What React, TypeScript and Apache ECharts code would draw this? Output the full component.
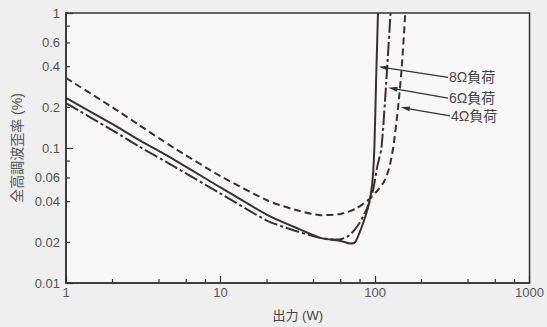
import React, { useEffect, useRef } from 'react';
import * as echarts from 'echarts';

// 8Ω load (solid)
const power8 = [1, 2, 3, 5, 10, 20, 30, 45, 60, 69, 74, 82, 91, 96, 99, 101.5, 104.5];
const thd8 = [0.235, 0.15, 0.114, 0.082, 0.051, 0.032, 0.026, 0.0215, 0.0205, 0.0196, 0.0199, 0.026, 0.038, 0.055, 0.1, 0.3, 1];
// 6Ω load (dash-dot)
const power6 = [1, 2, 3, 5, 10, 20, 30, 45, 58, 68, 78, 88, 96, 104, 110, 118, 126];
const thd6 = [0.215, 0.135, 0.102, 0.073, 0.046, 0.029, 0.0245, 0.0215, 0.021, 0.0225, 0.027, 0.035, 0.046, 0.075, 0.1, 0.3, 1];
// 4Ω load (dashed)
const power4 = [1, 2, 3, 5, 10, 20, 30, 45, 60, 75, 90, 103, 114, 123, 131, 141, 149, 157];
const thd4 = [0.33, 0.2, 0.147, 0.1, 0.062, 0.041, 0.035, 0.0318, 0.0325, 0.0355, 0.041, 0.048, 0.056, 0.07, 0.1, 0.2, 0.4, 1];

const xMinorTicks = [2, 4, 6, 8, 20, 40, 60, 80, 200, 400, 600, 800];
const yMinorTicks = [0.8, 0.6, 0.4, 0.2, 0.08, 0.06, 0.04, 0.02];
const yExtraLabels = ['0.6', '0.4', '0.2', '0.06', '0.04', '0.02'];

const loadLabels = ['8Ω負荷', '6Ω負荷', '4Ω負荷'];
const arrowFromX = [297, 297, 306];
const arrowFromY = [0.334, 0.234, 0.173];
const arrowToX = [106, 122, 147];
const arrowToY = [0.4, 0.28, 0.2];

const INK = '#3a3232';
const TXT = '#555';
const FONT = "'Liberation Sans', 'Noto Sans CJK JP', sans-serif";

const zip = (xs: number[], ys: number[]) => xs.map((x, i) => [x, ys[i]]);

export default function App() {
  const ref = useRef<HTMLDivElement>(null);
  useEffect(() => {
    if (!ref.current) return;
    const chart = echarts.init(ref.current, undefined, { renderer: 'svg' });
    const lineBase = {
      type: 'line',
      showSymbol: false,
      smooth: 0.25,
      z: 3,
    };
    chart.setOption({
      animation: false,
      backgroundColor: '#efefef',
      grid: {
        left: 66,
        right: 15,
        top: 13,
        bottom: 41,
        show: true,
        backgroundColor: '#f8f8f8',
        borderColor: '#333',
        borderWidth: 1.5,
      },
      xAxis: {
        type: 'log',
        logBase: 10,
        min: 1,
        max: 1000,
        name: '出力 (W)',
        nameLocation: 'middle',
        nameGap: 26,
        nameTextStyle: { color: '#444', fontSize: 13, fontFamily: FONT },
        axisLine: { show: true, lineStyle: { color: '#333', width: 1.5 } },
        axisTick: { show: true, inside: true, length: 7, lineStyle: { color: '#333', width: 1.2 } },
        axisLabel: {
          color: TXT,
          fontSize: 13,
          fontFamily: FONT,
          margin: 3,
          formatter: (v: number) => String(Math.round(v)),
        },
        splitLine: { show: false },
        minorTick: { show: false },
      },
      yAxis: {
        type: 'log',
        logBase: 10,
        min: 0.01,
        max: 1,
        name: '全高調波歪率 (%)',
        nameLocation: 'middle',
        nameGap: 42,
        nameRotate: 90,
        nameTextStyle: { color: TXT, fontSize: 14, fontFamily: FONT },
        axisLine: { show: true, lineStyle: { color: '#333', width: 1.5 } },
        axisTick: { show: true, inside: true, length: 7, lineStyle: { color: '#333', width: 1.2 } },
        axisLabel: { color: TXT, fontSize: 13, fontFamily: FONT, margin: 6 },
        splitLine: { show: false },
      },
      series: [
        {
          ...lineBase,
          name: '4Ω負荷',
          data: zip(power4, thd4),
          lineStyle: { color: INK, width: 2, type: [7, 4] },
        },
        {
          ...lineBase,
          name: '6Ω負荷',
          data: zip(power6, thd6),
          lineStyle: { color: INK, width: 2, type: [14, 3, 3, 3] },
        },
        {
          ...lineBase,
          name: '8Ω負荷',
          data: zip(power8, thd8),
          lineStyle: { color: INK, width: 2 },
        },
        {
          type: 'custom',
          name: 'xticks',
          silent: true,
          data: xMinorTicks.map((v) => [v, 0.01]),
          renderItem: (_p: any, api: any) => {
            const p = api.coord([api.value(0), api.value(1)]);
            return {
              type: 'line',
              shape: { x1: p[0], y1: p[1], x2: p[0], y2: p[1] - 4 },
              style: { stroke: '#333', lineWidth: 1.2 },
            };
          },
        },
        {
          type: 'custom',
          name: 'yticks',
          silent: true,
          data: yMinorTicks.map((v) => [1, v]),
          renderItem: (_p: any, api: any) => {
            const p = api.coord([api.value(0), api.value(1)]);
            return {
              type: 'line',
              shape: { x1: p[0], y1: p[1], x2: p[0] + 4, y2: p[1] },
              style: { stroke: '#333', lineWidth: 1.2 },
            };
          },
        },
        {
          type: 'custom',
          name: 'ylabels',
          silent: true,
          clip: false,
          data: yExtraLabels.map((s) => [1, parseFloat(s), s]),
          renderItem: (_p: any, api: any) => {
            const p = api.coord([api.value(0), api.value(1)]);
            return {
              type: 'text',
              x: p[0] - 6,
              y: p[1],
              style: {
                text: String(api.value(2)),
                align: 'right',
                verticalAlign: 'middle',
                fill: TXT,
                font: `13px ${FONT}`,
              },
            };
          },
        },
        {
          type: 'custom',
          name: 'annotations',
          silent: true,
          clip: false,
          z: 5,
          data: loadLabels.map((s, i) => [arrowFromX[i], arrowFromY[i], arrowToX[i], arrowToY[i], s]),
          renderItem: (_p: any, api: any) => {
            const a = api.coord([api.value(0), api.value(1)]);
            const b = api.coord([api.value(2), api.value(3)]);
            const dx = b[0] - a[0];
            const dy = b[1] - a[1];
            const len = Math.sqrt(dx * dx + dy * dy) || 1;
            const ux = dx / len;
            const uy = dy / len;
            const nx = -uy;
            const ny = ux;
            const hl = 9;
            const hw = 2.5;
            return {
              type: 'group',
              children: [
                {
                  type: 'line',
                  shape: { x1: a[0], y1: a[1], x2: b[0] - ux * 4, y2: b[1] - uy * 4 },
                  style: { stroke: '#333', lineWidth: 1.2 },
                },
                {
                  type: 'polygon',
                  shape: {
                    points: [
                      [b[0], b[1]],
                      [b[0] - ux * hl + nx * hw, b[1] - uy * hl + ny * hw],
                      [b[0] - ux * hl - nx * hw, b[1] - uy * hl - ny * hw],
                    ],
                  },
                  style: { fill: '#333' },
                },
                {
                  type: 'text',
                  x: a[0] + 1,
                  y: a[1],
                  style: {
                    text: String(api.value(4)),
                    align: 'left',
                    verticalAlign: 'middle',
                    fill: '#444',
                    font: `14px ${FONT}`,
                  },
                },
              ],
            };
          },
        },
      ],
    });
    return () => chart.dispose();
  }, []);
  return (
    <div
      ref={ref}
      style={{ position: 'fixed', left: 0, top: 0, width: 547, height: 327 }}
    />
  );
}
